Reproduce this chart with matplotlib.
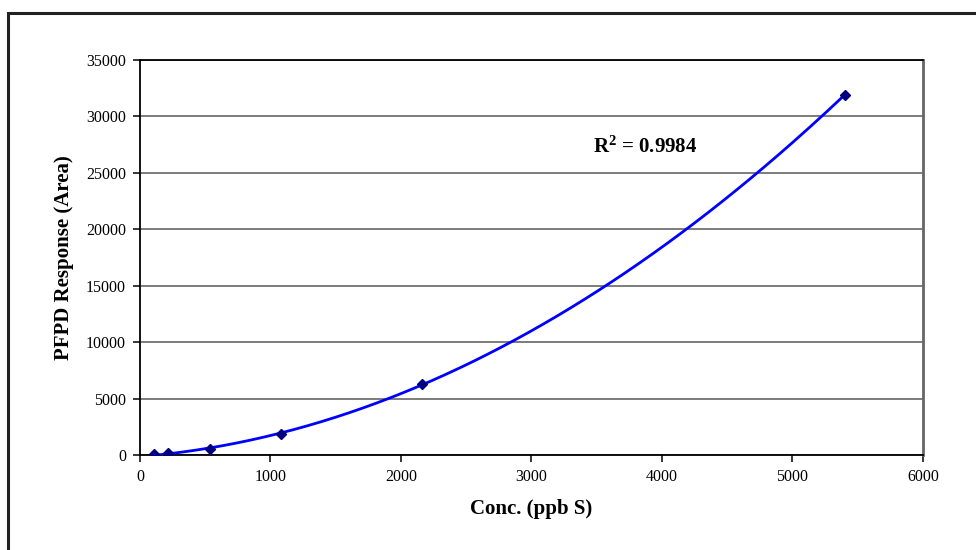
import matplotlib.pyplot as plt
import numpy as np
from matplotlib.patches import Rectangle

plt.rcParams['font.family'] = ['Liberation Serif', 'DejaVu Serif']
plt.rcParams['mathtext.fontset'] = 'custom'
plt.rcParams['mathtext.rm'] = 'Liberation Serif'
plt.rcParams['mathtext.bf'] = 'Liberation Serif:bold'

# calibration standards
conc = [108, 216, 540, 1080, 2160, 5400]
area = [50, 150, 520, 1880, 6290, 31900]
r2_text = r"$\mathbf{R^2}$ = 0.9984"

# second order trendline through the standards
coef = np.polyfit(conc, area, 2)
xfit = np.linspace(min(conc), max(conc), 200)
yfit = np.polyval(coef, xfit)

fig = plt.figure(figsize=(9.76, 5.5), dpi=100)
ax = fig.add_axes([0.1434, 0.1727, 0.8023, 0.7182])

ax.plot(xfit, yfit, color='#0000FF', lw=2, zorder=3)
ax.plot(conc, area, 'D', color='#000080', ms=5.5, zorder=4)

ax.set_xlim(0, 6000)
ax.set_ylim(0, 35000)
ax.set_xticks(np.arange(0, 6001, 1000))
ax.set_yticks(np.arange(0, 35001, 5000))
ax.yaxis.grid(True, color='#666666', lw=1.2)
ax.set_axisbelow(True)

ax.spines['right'].set_color('#666666')
ax.spines['right'].set_linewidth(2)
for s in ['top', 'left', 'bottom']:
    ax.spines[s].set_color('black')
    ax.spines[s].set_linewidth(1.3)
ax.tick_params(direction='out', length=5, width=1.1, labelsize=11.5, pad=5)

ax.set_xlabel("Conc. (ppb S)", fontsize=15, fontweight='bold', labelpad=10)
ax.set_ylabel("PFPD Response (Area)", fontsize=15, fontweight='bold', labelpad=9)

ax.text(3470, 26750, r2_text, fontsize=15, fontweight='bold')

# chart area border
fig.patches.append(Rectangle((8 / 976, -0.1), 1.2, 1 - 13 / 550 + 0.1,
                             transform=fig.transFigure, fill=False,
                             ec='#222222', lw=2.2))

fig.savefig('out.png', dpi=100)
